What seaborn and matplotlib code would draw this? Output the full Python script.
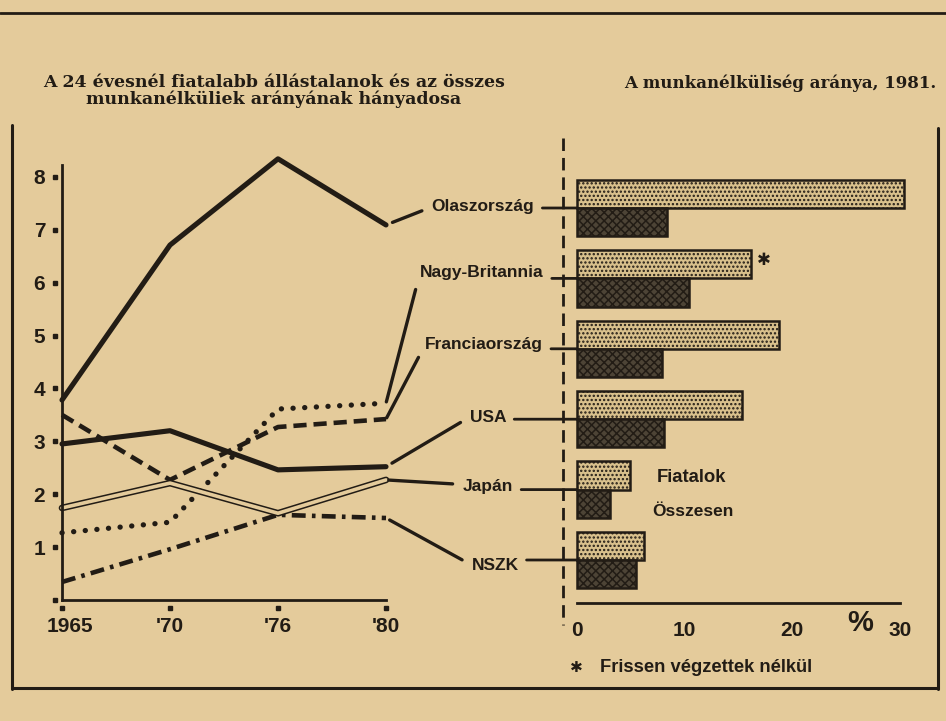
import numpy as np
import pandas as pd
import matplotlib
matplotlib.use("Agg")
import matplotlib.pyplot as plt
from matplotlib.lines import Line2D
from matplotlib.patches import ConnectionPatch
from matplotlib import font_manager, transforms
import seaborn as sns

# ---------------- data ----------------
years = ["1965", "'70", "'76", "'80"]
italy = [3.78, 6.71, 8.34, 7.09]
britain = [1.27, 1.47, 3.61, 3.72]
france = [3.50, 2.27, 3.27, 3.42]
usa = [2.95, 3.20, 2.46, 2.52]
japan = [1.74, 2.21, 1.64, 2.27]
nszk = [0.34, 0.96, 1.61, 1.55]

countries = ["Olaszország", "Nagy-Britannia", "Franciaország", "USA", "Japán", "NSZK"]
fiatalok = [30.4, 16.2, 18.8, 15.3, 4.9, 6.2]
osszesen = [8.4, 10.4, 7.9, 8.1, 3.1, 5.5]
bar_series = ["Fiatalok", "Összesen"]
y_ticks = [1, 2, 3, 4, 5, 6, 7, 8]
pct_ticks = [0, 10, 20, 30]

# ---------------- style ----------------
sns.set_theme(style="white")
PAPER = "#E4CB9B"
INK = "#221c15"
names = {f.name for f in font_manager.fontManager.ttflist}
COND = "Liberation Sans Narrow" if "Liberation Sans Narrow" in names else "Liberation Sans"
SC = 1.18 if COND == "Liberation Sans Narrow" else 1.0
plt.rcParams["font.family"] = [COND, "DejaVu Sans"]
plt.rcParams["lines.scale_dashes"] = False
plt.rcParams["hatch.linewidth"] = 1.1

W, H = 946, 721
fig = plt.figure(figsize=(W / 100, H / 100), dpi=100, facecolor=PAPER)

def fx(x):
    return x / W

def fy(y):
    return 1 - y / H

# ---------------- left line chart ----------------
ax1 = fig.add_axes([fx(62), fy(600), (386 - 62) / W, (600 - 165) / H])
ax1.set_facecolor("none")
pos = list(range(len(years)))

series = [
    ("Olaszország", italy, dict(lw=3.7, ls="-")),
    ("Nagy-Britannia", britain, dict(lw=3.8, ls=(0, (0.1, 8.3)), dash_capstyle="round", solid_capstyle="round")),
    ("Franciaország", france, dict(lw=3.3, ls=(0, (9.5, 5.0)))),
    ("USA", usa, dict(lw=3.7, ls="-")),
    ("NSZK", nszk, dict(lw=3.3, ls=(0, (10, 4.5, 2.6, 4.5)))),
]
for name, vals, kw in series:
    df = pd.DataFrame({"x": pos, "y": vals})
    sns.lineplot(data=df, x="x", y="y", ax=ax1, color=INK, clip_on=False, **kw)
# Japan: double line
dfj = pd.DataFrame({"x": pos, "y": japan})
sns.lineplot(data=dfj, x="x", y="y", ax=ax1, color=INK, lw=4.8, clip_on=False)
sns.lineplot(data=dfj, x="x", y="y", ax=ax1, color=PAPER, lw=2.6, clip_on=False)

ax1.set_xlim(0, 3)
ax1.set_ylim(0, 435 / 52.9)
ax1.set_xlabel("")
ax1.set_ylabel("")
for s in ["top", "right"]:
    ax1.spines[s].set_visible(False)
for s in ["left", "bottom"]:
    ax1.spines[s].set_color(INK)
    ax1.spines[s].set_linewidth(2.0)
ax1.set_xticks(pos)
ax1.set_xticklabels(years)
ax1.set_yticks(y_ticks)
ax1.set_yticklabels([str(v) for v in y_ticks])
ax1.tick_params(axis="both", length=0, colors=INK)
ax1.tick_params(axis="y", pad=12)
ax1.tick_params(axis="x", pad=12)
for lab in ax1.get_xticklabels() + ax1.get_yticklabels():
    lab.set_fontweight("bold")
    lab.set_fontsize(15 * SC)
    lab.set_family([COND, "DejaVu Sans"])
# first year label sits a little to the right of its tick
first = ax1.xaxis.get_major_ticks()[0].label1
first.set_transform(first.get_transform() +
                    transforms.ScaledTranslation(8 / 100, 0, fig.dpi_scale_trans))
# square tick marks with a gap
tr_y = transforms.blended_transform_factory(ax1.transAxes, ax1.transData) + \
    transforms.ScaledTranslation(-7 / 100, 0, fig.dpi_scale_trans)
ax1.plot([0] * (len(y_ticks) + 1), [0] + y_ticks, ls="none", marker="s", ms=3.2,
         color=INK, transform=tr_y, clip_on=False)
tr_x = transforms.blended_transform_factory(ax1.transData, ax1.transAxes) + \
    transforms.ScaledTranslation(0, -8 / 100, fig.dpi_scale_trans)
ax1.plot(pos, [0] * len(pos), ls="none", marker="s", ms=3.2, color=INK,
         transform=tr_x, clip_on=False)

# ---------------- right bar chart ----------------
ax2 = fig.add_axes([fx(577), fy(603), (900 - 577) / W, (603 - 160) / H])
ax2.set_facecolor("none")
bdf = pd.DataFrame({
    "country": countries * 2,
    "value": fiatalok + osszesen,
    "series": [bar_series[0]] * len(countries) + [bar_series[1]] * len(countries),
})
sns.barplot(data=bdf, y="country", x="value", hue="series", hue_order=bar_series,
            order=countries, orient="h", ax=ax2, legend=False, width=0.8,
            palette=["#D8C08C", "#4d4436"], saturation=1)
for i, cont in enumerate(ax2.containers):
    for p in cont:
        p.set_edgecolor(INK)
        p.set_linewidth(1.8)
        p.set_clip_on(False)
        if i == 0:
            p.set_hatch("....")
        else:
            p.set_hatch("xxxx")
ax2.set_xlim(0, 30)
ax2.set_ylim(5 + 43 / 70.4, -48 / 70.4)
ax2.set_xlabel("")
ax2.set_ylabel("")
ax2.set_yticks([])
for s in ["top", "right", "left"]:
    ax2.spines[s].set_visible(False)
ax2.spines["bottom"].set_color(INK)
ax2.spines["bottom"].set_linewidth(2.0)
ax2.set_xticks(pct_ticks)
ax2.set_xticklabels([str(v) for v in pct_ticks])
ax2.tick_params(axis="x", length=3, width=3.5, direction="out", colors=INK, pad=10)
for lab in ax2.get_xticklabels():
    lab.set_fontweight("bold")
    lab.set_fontsize(15 * SC)

# ---------------- labels & connectors ----------------
label_px = {
    "Olaszország": (483, 207), "Nagy-Britannia": (482, 272), "Franciaország": (484, 345),
    "USA": (488, 417), "Japán": (488, 486), "NSZK": (495, 565),
}
last_vals = {"Olaszország": italy[-1], "Nagy-Britannia": britain[-1], "Franciaország": france[-1],
             "USA": usa[-1], "Japán": japan[-1], "NSZK": nszk[-1]}
shrinkB = {"Olaszország": 5, "Nagy-Britannia": 1, "Franciaország": 1, "USA": 5, "Japán": 2, "NSZK": 3}
relposy = {"Olaszország": 0.5, "Nagy-Britannia": 0.5, "Franciaország": 0.5, "USA": 0.5,
           "Japán": 0.6, "NSZK": 0.5}
anns = {}
for name in countries:
    x, y = label_px[name]
    anns[name] = ax1.annotate(
        name, xy=(3, last_vals[name]), xycoords="data",
        xytext=(x, H - y), textcoords="figure pixels", ha="center", va="center",
        fontsize=12.5 * SC, fontweight="bold", color=INK, annotation_clip=False,
        arrowprops=dict(arrowstyle="-", lw=2.4, color=INK, shrinkA=5,
                        shrinkB=shrinkB[name], relpos=(0, relposy[name])))

fig.canvas.draw()
renderer = fig.canvas.get_renderer()
for i, name in enumerate(countries):
    bb = matplotlib.text.Text.get_window_extent(anns[name], renderer)
    yb = ax2.transData.transform((0, i))[1]
    con = ConnectionPatch(xyA=(bb.x1 + 8, yb), coordsA="figure pixels",
                          xyB=(0, i), coordsB=ax2.transData,
                          lw=2.0, color=INK)
    fig.add_artist(con)

# asterisk after UK youth bar
ax2.annotate("\u2731", xy=(fiatalok[1], 1 - 0.2), xycoords="data",
             xytext=(9, 3), textcoords="offset points", ha="center", va="center",
             fontsize=12, color=INK, family="DejaVu Sans", fontweight="bold")

fig.text(fx(657), fy(477), "Fiatalok", ha="left", va="center", fontsize=13.3 * SC,
         fontweight="bold", color=INK)
fig.text(fx(652), fy(512), "Összesen", ha="left", va="center", fontsize=12.5 * SC,
         fontweight="bold", color=INK)
fig.text(fx(860), fy(623), "%", ha="center", va="center", fontsize=21 * SC,
         fontweight="bold", color=INK)
fig.text(fx(576), fy(668), "\u2731", ha="center", va="center", fontsize=11,
         family="DejaVu Sans", color=INK)
fig.text(fx(600), fy(668), "Frissen végzettek nélkül", ha="left", va="center",
         fontsize=13.2 * SC, fontweight="bold", color=INK)

# titles
fig.text(fx(274), fy(91),
         "A 24 évesnél fiatalabb állástalanok és az összes\nmunkanélküliek arányának hányadosa",
         ha="center", va="center", fontsize=12.5, fontweight="bold",
         family="DejaVu Serif", color=INK, linespacing=1.0)
fig.text(fx(780), fy(83), "A munkanélküliség aránya, 1981.", ha="center", va="center",
         fontsize=12, fontweight="bold", family="DejaVu Serif", color=INK)

# frame and divider
def fline(xs, ys, **kw):
    fig.add_artist(Line2D([fx(v) for v in xs], [fy(v) for v in ys],
                          transform=fig.transFigure, color=INK, **kw))

fline([0, 946], [13, 13], lw=2.0)
fline([12, 12], [125, 689], lw=2.2)
fline([12, 938], [688, 688], lw=2.2)
fline([938, 938], [128, 689], lw=2.2)
fline([563, 563], [138, 625], lw=2.0, ls=(0, (9, 5)))

fig.savefig("out.png", dpi=100, facecolor=PAPER)
